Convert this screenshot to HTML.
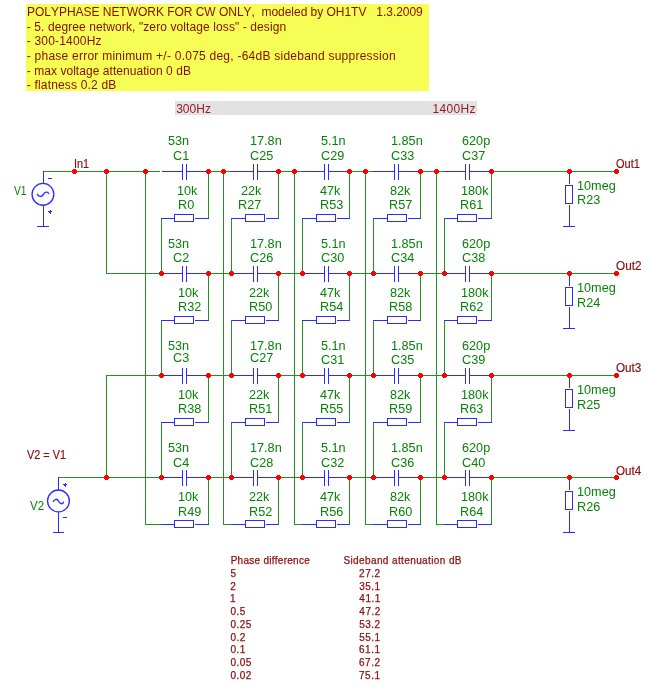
<!DOCTYPE html>
<html><head><meta charset="utf-8"><style>
html,body{margin:0;padding:0;background:#fff;}
body{width:650px;height:687px;position:relative;overflow:hidden;font-family:"Liberation Sans",sans-serif;}
.t{position:absolute;white-space:pre;line-height:1;font-kerning:none;}
.t[style*="font-size:9.5px"]{line-height:1;}
#yb{position:absolute;left:26px;top:4px;width:403px;height:87px;background:#f6fd55;}
#gb{position:absolute;left:175px;top:101px;width:302px;height:14px;background:#e2e2e2;}
svg{position:absolute;left:0;top:0;}
</style></head><body>
<div id="yb"></div>
<div id="gb"></div>
<svg width="650" height="687" viewBox="0 0 650 687" shape-rendering="crispEdges">
<rect x="162" y="171" width="20" height="1" fill="#2b2bff"/><rect x="182" y="164" width="1" height="16" fill="#2b2bff"/><rect x="186" y="164" width="1" height="16" fill="#2b2bff"/><rect x="187" y="171" width="22" height="1" fill="#2b2bff"/><rect x="161" y="218" width="13" height="1" fill="#2b2bff"/><rect x="174.5" y="214.5" width="19" height="7" fill="none" stroke="#2b2bff" stroke-width="1"/><rect x="195" y="218" width="14" height="1" fill="#2b2bff"/><rect x="208" y="172" width="1" height="46" fill="#278f27"/><rect x="161" y="219" width="1" height="54" fill="#278f27"/><rect x="161" y="273" width="21" height="1" fill="#2b2bff"/><rect x="182" y="266" width="1" height="16" fill="#2b2bff"/><rect x="186" y="266" width="1" height="16" fill="#2b2bff"/><rect x="187" y="273" width="22" height="1" fill="#2b2bff"/><rect x="161" y="320" width="13" height="1" fill="#2b2bff"/><rect x="174.5" y="316.5" width="19" height="7" fill="none" stroke="#2b2bff" stroke-width="1"/><rect x="195" y="320" width="14" height="1" fill="#2b2bff"/><rect x="208" y="274" width="1" height="46" fill="#278f27"/><rect x="161" y="321" width="1" height="54" fill="#278f27"/><rect x="161" y="375" width="21" height="1" fill="#2b2bff"/><rect x="182" y="368" width="1" height="16" fill="#2b2bff"/><rect x="186" y="368" width="1" height="16" fill="#2b2bff"/><rect x="187" y="375" width="22" height="1" fill="#2b2bff"/><rect x="161" y="422" width="13" height="1" fill="#2b2bff"/><rect x="174.5" y="418.5" width="19" height="7" fill="none" stroke="#2b2bff" stroke-width="1"/><rect x="195" y="422" width="14" height="1" fill="#2b2bff"/><rect x="208" y="376" width="1" height="46" fill="#278f27"/><rect x="161" y="423" width="1" height="54" fill="#278f27"/><rect x="161" y="477" width="21" height="1" fill="#2b2bff"/><rect x="182" y="470" width="1" height="16" fill="#2b2bff"/><rect x="186" y="470" width="1" height="16" fill="#2b2bff"/><rect x="187" y="477" width="22" height="1" fill="#2b2bff"/><rect x="161" y="524" width="13" height="1" fill="#2b2bff"/><rect x="174.5" y="520.5" width="19" height="7" fill="none" stroke="#2b2bff" stroke-width="1"/><rect x="195" y="524" width="14" height="1" fill="#2b2bff"/><rect x="208" y="478" width="1" height="46" fill="#278f27"/><rect x="145" y="524" width="16" height="1" fill="#278f27"/><rect x="145" y="172" width="1" height="353" fill="#278f27"/><rect x="231" y="171" width="22" height="1" fill="#2b2bff"/><rect x="253" y="164" width="1" height="16" fill="#2b2bff"/><rect x="257" y="164" width="1" height="16" fill="#2b2bff"/><rect x="258" y="171" width="21" height="1" fill="#2b2bff"/><rect x="231" y="218" width="14" height="1" fill="#2b2bff"/><rect x="245.5" y="214.5" width="19" height="7" fill="none" stroke="#2b2bff" stroke-width="1"/><rect x="266" y="218" width="13" height="1" fill="#2b2bff"/><rect x="278" y="172" width="1" height="46" fill="#278f27"/><rect x="231" y="219" width="1" height="54" fill="#278f27"/><rect x="231" y="273" width="22" height="1" fill="#2b2bff"/><rect x="253" y="266" width="1" height="16" fill="#2b2bff"/><rect x="257" y="266" width="1" height="16" fill="#2b2bff"/><rect x="258" y="273" width="21" height="1" fill="#2b2bff"/><rect x="231" y="320" width="14" height="1" fill="#2b2bff"/><rect x="245.5" y="316.5" width="19" height="7" fill="none" stroke="#2b2bff" stroke-width="1"/><rect x="266" y="320" width="13" height="1" fill="#2b2bff"/><rect x="278" y="274" width="1" height="46" fill="#278f27"/><rect x="231" y="321" width="1" height="54" fill="#278f27"/><rect x="231" y="375" width="22" height="1" fill="#2b2bff"/><rect x="253" y="368" width="1" height="16" fill="#2b2bff"/><rect x="257" y="368" width="1" height="16" fill="#2b2bff"/><rect x="258" y="375" width="21" height="1" fill="#2b2bff"/><rect x="231" y="422" width="14" height="1" fill="#2b2bff"/><rect x="245.5" y="418.5" width="19" height="7" fill="none" stroke="#2b2bff" stroke-width="1"/><rect x="266" y="422" width="13" height="1" fill="#2b2bff"/><rect x="278" y="376" width="1" height="46" fill="#278f27"/><rect x="231" y="423" width="1" height="54" fill="#278f27"/><rect x="231" y="477" width="22" height="1" fill="#2b2bff"/><rect x="253" y="470" width="1" height="16" fill="#2b2bff"/><rect x="257" y="470" width="1" height="16" fill="#2b2bff"/><rect x="258" y="477" width="21" height="1" fill="#2b2bff"/><rect x="231" y="524" width="14" height="1" fill="#2b2bff"/><rect x="245.5" y="520.5" width="19" height="7" fill="none" stroke="#2b2bff" stroke-width="1"/><rect x="266" y="524" width="13" height="1" fill="#2b2bff"/><rect x="278" y="478" width="1" height="46" fill="#278f27"/><rect x="223" y="524" width="8" height="1" fill="#278f27"/><rect x="223" y="172" width="1" height="353" fill="#278f27"/><rect x="302" y="171" width="22" height="1" fill="#2b2bff"/><rect x="324" y="164" width="1" height="16" fill="#2b2bff"/><rect x="328" y="164" width="1" height="16" fill="#2b2bff"/><rect x="329" y="171" width="21" height="1" fill="#2b2bff"/><rect x="302" y="218" width="14" height="1" fill="#2b2bff"/><rect x="316.5" y="214.5" width="19" height="7" fill="none" stroke="#2b2bff" stroke-width="1"/><rect x="337" y="218" width="13" height="1" fill="#2b2bff"/><rect x="349" y="172" width="1" height="46" fill="#278f27"/><rect x="302" y="219" width="1" height="54" fill="#278f27"/><rect x="302" y="273" width="22" height="1" fill="#2b2bff"/><rect x="324" y="266" width="1" height="16" fill="#2b2bff"/><rect x="328" y="266" width="1" height="16" fill="#2b2bff"/><rect x="329" y="273" width="21" height="1" fill="#2b2bff"/><rect x="302" y="320" width="14" height="1" fill="#2b2bff"/><rect x="316.5" y="316.5" width="19" height="7" fill="none" stroke="#2b2bff" stroke-width="1"/><rect x="337" y="320" width="13" height="1" fill="#2b2bff"/><rect x="349" y="274" width="1" height="46" fill="#278f27"/><rect x="302" y="321" width="1" height="54" fill="#278f27"/><rect x="302" y="375" width="22" height="1" fill="#2b2bff"/><rect x="324" y="368" width="1" height="16" fill="#2b2bff"/><rect x="328" y="368" width="1" height="16" fill="#2b2bff"/><rect x="329" y="375" width="21" height="1" fill="#2b2bff"/><rect x="302" y="422" width="14" height="1" fill="#2b2bff"/><rect x="316.5" y="418.5" width="19" height="7" fill="none" stroke="#2b2bff" stroke-width="1"/><rect x="337" y="422" width="13" height="1" fill="#2b2bff"/><rect x="349" y="376" width="1" height="46" fill="#278f27"/><rect x="302" y="423" width="1" height="54" fill="#278f27"/><rect x="302" y="477" width="22" height="1" fill="#2b2bff"/><rect x="324" y="470" width="1" height="16" fill="#2b2bff"/><rect x="328" y="470" width="1" height="16" fill="#2b2bff"/><rect x="329" y="477" width="21" height="1" fill="#2b2bff"/><rect x="302" y="524" width="14" height="1" fill="#2b2bff"/><rect x="316.5" y="520.5" width="19" height="7" fill="none" stroke="#2b2bff" stroke-width="1"/><rect x="337" y="524" width="13" height="1" fill="#2b2bff"/><rect x="349" y="478" width="1" height="46" fill="#278f27"/><rect x="294" y="524" width="8" height="1" fill="#278f27"/><rect x="294" y="172" width="1" height="353" fill="#278f27"/><rect x="373" y="171" width="21" height="1" fill="#2b2bff"/><rect x="394" y="164" width="1" height="16" fill="#2b2bff"/><rect x="398" y="164" width="1" height="16" fill="#2b2bff"/><rect x="399" y="171" width="22" height="1" fill="#2b2bff"/><rect x="373" y="218" width="14" height="1" fill="#2b2bff"/><rect x="387.5" y="214.5" width="19" height="7" fill="none" stroke="#2b2bff" stroke-width="1"/><rect x="408" y="218" width="13" height="1" fill="#2b2bff"/><rect x="420" y="172" width="1" height="46" fill="#278f27"/><rect x="373" y="219" width="1" height="54" fill="#278f27"/><rect x="373" y="273" width="21" height="1" fill="#2b2bff"/><rect x="394" y="266" width="1" height="16" fill="#2b2bff"/><rect x="398" y="266" width="1" height="16" fill="#2b2bff"/><rect x="399" y="273" width="22" height="1" fill="#2b2bff"/><rect x="373" y="320" width="14" height="1" fill="#2b2bff"/><rect x="387.5" y="316.5" width="19" height="7" fill="none" stroke="#2b2bff" stroke-width="1"/><rect x="408" y="320" width="13" height="1" fill="#2b2bff"/><rect x="420" y="274" width="1" height="46" fill="#278f27"/><rect x="373" y="321" width="1" height="54" fill="#278f27"/><rect x="373" y="375" width="21" height="1" fill="#2b2bff"/><rect x="394" y="368" width="1" height="16" fill="#2b2bff"/><rect x="398" y="368" width="1" height="16" fill="#2b2bff"/><rect x="399" y="375" width="22" height="1" fill="#2b2bff"/><rect x="373" y="422" width="14" height="1" fill="#2b2bff"/><rect x="387.5" y="418.5" width="19" height="7" fill="none" stroke="#2b2bff" stroke-width="1"/><rect x="408" y="422" width="13" height="1" fill="#2b2bff"/><rect x="420" y="376" width="1" height="46" fill="#278f27"/><rect x="373" y="423" width="1" height="54" fill="#278f27"/><rect x="373" y="477" width="21" height="1" fill="#2b2bff"/><rect x="394" y="470" width="1" height="16" fill="#2b2bff"/><rect x="398" y="470" width="1" height="16" fill="#2b2bff"/><rect x="399" y="477" width="22" height="1" fill="#2b2bff"/><rect x="373" y="524" width="14" height="1" fill="#2b2bff"/><rect x="387.5" y="520.5" width="19" height="7" fill="none" stroke="#2b2bff" stroke-width="1"/><rect x="408" y="524" width="13" height="1" fill="#2b2bff"/><rect x="420" y="478" width="1" height="46" fill="#278f27"/><rect x="365" y="524" width="8" height="1" fill="#278f27"/><rect x="365" y="172" width="1" height="353" fill="#278f27"/><rect x="444" y="171" width="21" height="1" fill="#2b2bff"/><rect x="465" y="164" width="1" height="16" fill="#2b2bff"/><rect x="469" y="164" width="1" height="16" fill="#2b2bff"/><rect x="470" y="171" width="22" height="1" fill="#2b2bff"/><rect x="444" y="218" width="13" height="1" fill="#2b2bff"/><rect x="457.5" y="214.5" width="19" height="7" fill="none" stroke="#2b2bff" stroke-width="1"/><rect x="478" y="218" width="14" height="1" fill="#2b2bff"/><rect x="491" y="172" width="1" height="46" fill="#278f27"/><rect x="444" y="219" width="1" height="54" fill="#278f27"/><rect x="444" y="273" width="21" height="1" fill="#2b2bff"/><rect x="465" y="266" width="1" height="16" fill="#2b2bff"/><rect x="469" y="266" width="1" height="16" fill="#2b2bff"/><rect x="470" y="273" width="22" height="1" fill="#2b2bff"/><rect x="444" y="320" width="13" height="1" fill="#2b2bff"/><rect x="457.5" y="316.5" width="19" height="7" fill="none" stroke="#2b2bff" stroke-width="1"/><rect x="478" y="320" width="14" height="1" fill="#2b2bff"/><rect x="491" y="274" width="1" height="46" fill="#278f27"/><rect x="444" y="321" width="1" height="54" fill="#278f27"/><rect x="444" y="375" width="21" height="1" fill="#2b2bff"/><rect x="465" y="368" width="1" height="16" fill="#2b2bff"/><rect x="469" y="368" width="1" height="16" fill="#2b2bff"/><rect x="470" y="375" width="22" height="1" fill="#2b2bff"/><rect x="444" y="422" width="13" height="1" fill="#2b2bff"/><rect x="457.5" y="418.5" width="19" height="7" fill="none" stroke="#2b2bff" stroke-width="1"/><rect x="478" y="422" width="14" height="1" fill="#2b2bff"/><rect x="491" y="376" width="1" height="46" fill="#278f27"/><rect x="444" y="423" width="1" height="54" fill="#278f27"/><rect x="444" y="477" width="21" height="1" fill="#2b2bff"/><rect x="465" y="470" width="1" height="16" fill="#2b2bff"/><rect x="469" y="470" width="1" height="16" fill="#2b2bff"/><rect x="470" y="477" width="22" height="1" fill="#2b2bff"/><rect x="444" y="524" width="13" height="1" fill="#2b2bff"/><rect x="457.5" y="520.5" width="19" height="7" fill="none" stroke="#2b2bff" stroke-width="1"/><rect x="478" y="524" width="14" height="1" fill="#2b2bff"/><rect x="491" y="478" width="1" height="46" fill="#278f27"/><rect x="436" y="524" width="8" height="1" fill="#278f27"/><rect x="436" y="172" width="1" height="353" fill="#278f27"/><rect x="209" y="171" width="22" height="1" fill="#278f27"/><rect x="279" y="171" width="23" height="1" fill="#278f27"/><rect x="350" y="171" width="23" height="1" fill="#278f27"/><rect x="421" y="171" width="23" height="1" fill="#278f27"/><rect x="492" y="171" width="125" height="1" fill="#278f27"/><rect x="209" y="273" width="22" height="1" fill="#278f27"/><rect x="279" y="273" width="23" height="1" fill="#278f27"/><rect x="350" y="273" width="23" height="1" fill="#278f27"/><rect x="421" y="273" width="23" height="1" fill="#278f27"/><rect x="492" y="273" width="125" height="1" fill="#278f27"/><rect x="209" y="375" width="22" height="1" fill="#278f27"/><rect x="279" y="375" width="23" height="1" fill="#278f27"/><rect x="350" y="375" width="23" height="1" fill="#278f27"/><rect x="421" y="375" width="23" height="1" fill="#278f27"/><rect x="492" y="375" width="125" height="1" fill="#278f27"/><rect x="209" y="477" width="22" height="1" fill="#278f27"/><rect x="279" y="477" width="23" height="1" fill="#278f27"/><rect x="350" y="477" width="23" height="1" fill="#278f27"/><rect x="421" y="477" width="23" height="1" fill="#278f27"/><rect x="492" y="477" width="125" height="1" fill="#278f27"/><rect x="44" y="171" width="116" height="1" fill="#278f27"/><rect x="106" y="273" width="55" height="1" fill="#278f27"/><rect x="106" y="375" width="55" height="1" fill="#278f27"/><rect x="59" y="477" width="102" height="1" fill="#278f27"/><rect x="106" y="172" width="1" height="101" fill="#278f27"/><rect x="106" y="376" width="1" height="101" fill="#278f27"/><rect x="106" y="273" width="1" height="1" fill="#278f27"/><rect x="569" y="172" width="1" height="12" fill="#2b2bff"/><rect x="565.5" y="185.5" width="7" height="18" fill="none" stroke="#2b2bff" stroke-width="1"/><rect x="569" y="205" width="1" height="22" fill="#2b2bff"/><rect x="563" y="226" width="12" height="1" fill="#2b2bff"/><rect x="569" y="274" width="1" height="12" fill="#2b2bff"/><rect x="565.5" y="287.5" width="7" height="18" fill="none" stroke="#2b2bff" stroke-width="1"/><rect x="569" y="307" width="1" height="22" fill="#2b2bff"/><rect x="563" y="328" width="12" height="1" fill="#2b2bff"/><rect x="569" y="376" width="1" height="12" fill="#2b2bff"/><rect x="565.5" y="389.5" width="7" height="18" fill="none" stroke="#2b2bff" stroke-width="1"/><rect x="569" y="409" width="1" height="22" fill="#2b2bff"/><rect x="563" y="430" width="12" height="1" fill="#2b2bff"/><rect x="569" y="478" width="1" height="12" fill="#2b2bff"/><rect x="565.5" y="491.5" width="7" height="18" fill="none" stroke="#2b2bff" stroke-width="1"/><rect x="569" y="511" width="1" height="22" fill="#2b2bff"/><rect x="563" y="532" width="12" height="1" fill="#2b2bff"/><rect x="43" y="171" width="1" height="12" fill="#2b2bff"/><circle cx="42.95" cy="194.35" r="10.9" fill="none" stroke="#2b2bff" stroke-width="1.3" shape-rendering="geometricPrecision"/><path d="M37.3 194.3 C39 197 41.8 197.2 43.2 194.6 S47.5 191.2 48.7 193.5" fill="none" stroke="#2b2bff" stroke-width="1.35" stroke-linecap="round" shape-rendering="geometricPrecision"/><rect x="43" y="205" width="1" height="22" fill="#2b2bff"/><rect x="37" y="226" width="12" height="1" fill="#2b2bff"/><rect x="48" y="178" width="4" height="1" fill="#2b2bff"/><rect x="48" y="211" width="4" height="1" fill="#2b2bff"/><rect x="50" y="210" width="1" height="4" fill="#2b2bff"/><rect x="49" y="212" width="1" height="1" fill="#2b2bff"/><rect x="58" y="477" width="1" height="13" fill="#2b2bff"/><circle cx="58.45" cy="500.9" r="10.9" fill="none" stroke="#2b2bff" stroke-width="1.3" shape-rendering="geometricPrecision"/><path d="M53.2 501.5 C54.7 498.6 57.3 498.6 58.6 501.3 S62.5 504.6 63.5 502.2" fill="none" stroke="#2b2bff" stroke-width="1.35" stroke-linecap="round" shape-rendering="geometricPrecision"/><rect x="58" y="512" width="1" height="21" fill="#2b2bff"/><rect x="53" y="532" width="11" height="1" fill="#2b2bff"/><rect x="63" y="484" width="4" height="1" fill="#2b2bff"/><rect x="65" y="483" width="1" height="4" fill="#2b2bff"/><rect x="64" y="485" width="1" height="1" fill="#2b2bff"/><rect x="63" y="517" width="4" height="1" fill="#2b2bff"/><path d="M73 169h3v1h1v3h-1v1h-3v-1h-1v-3h1z" fill="#ff0000"/><path d="M105 169h3v1h1v3h-1v1h-3v-1h-1v-3h1z" fill="#ff0000"/><path d="M105 475h3v1h1v3h-1v1h-3v-1h-1v-3h1z" fill="#ff0000"/><path d="M144 169h3v1h1v3h-1v1h-3v-1h-1v-3h1z" fill="#ff0000"/><path d="M207 169h3v1h1v3h-1v1h-3v-1h-1v-3h1z" fill="#ff0000"/><path d="M160 271h3v1h1v3h-1v1h-3v-1h-1v-3h1z" fill="#ff0000"/><path d="M207 271h3v1h1v3h-1v1h-3v-1h-1v-3h1z" fill="#ff0000"/><path d="M160 373h3v1h1v3h-1v1h-3v-1h-1v-3h1z" fill="#ff0000"/><path d="M207 373h3v1h1v3h-1v1h-3v-1h-1v-3h1z" fill="#ff0000"/><path d="M160 475h3v1h1v3h-1v1h-3v-1h-1v-3h1z" fill="#ff0000"/><path d="M207 475h3v1h1v3h-1v1h-3v-1h-1v-3h1z" fill="#ff0000"/><path d="M222 169h3v1h1v3h-1v1h-3v-1h-1v-3h1z" fill="#ff0000"/><path d="M277 169h3v1h1v3h-1v1h-3v-1h-1v-3h1z" fill="#ff0000"/><path d="M230 271h3v1h1v3h-1v1h-3v-1h-1v-3h1z" fill="#ff0000"/><path d="M277 271h3v1h1v3h-1v1h-3v-1h-1v-3h1z" fill="#ff0000"/><path d="M230 373h3v1h1v3h-1v1h-3v-1h-1v-3h1z" fill="#ff0000"/><path d="M277 373h3v1h1v3h-1v1h-3v-1h-1v-3h1z" fill="#ff0000"/><path d="M230 475h3v1h1v3h-1v1h-3v-1h-1v-3h1z" fill="#ff0000"/><path d="M277 475h3v1h1v3h-1v1h-3v-1h-1v-3h1z" fill="#ff0000"/><path d="M293 169h3v1h1v3h-1v1h-3v-1h-1v-3h1z" fill="#ff0000"/><path d="M348 169h3v1h1v3h-1v1h-3v-1h-1v-3h1z" fill="#ff0000"/><path d="M301 271h3v1h1v3h-1v1h-3v-1h-1v-3h1z" fill="#ff0000"/><path d="M348 271h3v1h1v3h-1v1h-3v-1h-1v-3h1z" fill="#ff0000"/><path d="M301 373h3v1h1v3h-1v1h-3v-1h-1v-3h1z" fill="#ff0000"/><path d="M348 373h3v1h1v3h-1v1h-3v-1h-1v-3h1z" fill="#ff0000"/><path d="M301 475h3v1h1v3h-1v1h-3v-1h-1v-3h1z" fill="#ff0000"/><path d="M348 475h3v1h1v3h-1v1h-3v-1h-1v-3h1z" fill="#ff0000"/><path d="M364 169h3v1h1v3h-1v1h-3v-1h-1v-3h1z" fill="#ff0000"/><path d="M419 169h3v1h1v3h-1v1h-3v-1h-1v-3h1z" fill="#ff0000"/><path d="M372 271h3v1h1v3h-1v1h-3v-1h-1v-3h1z" fill="#ff0000"/><path d="M419 271h3v1h1v3h-1v1h-3v-1h-1v-3h1z" fill="#ff0000"/><path d="M372 373h3v1h1v3h-1v1h-3v-1h-1v-3h1z" fill="#ff0000"/><path d="M419 373h3v1h1v3h-1v1h-3v-1h-1v-3h1z" fill="#ff0000"/><path d="M372 475h3v1h1v3h-1v1h-3v-1h-1v-3h1z" fill="#ff0000"/><path d="M419 475h3v1h1v3h-1v1h-3v-1h-1v-3h1z" fill="#ff0000"/><path d="M435 169h3v1h1v3h-1v1h-3v-1h-1v-3h1z" fill="#ff0000"/><path d="M490 169h3v1h1v3h-1v1h-3v-1h-1v-3h1z" fill="#ff0000"/><path d="M443 271h3v1h1v3h-1v1h-3v-1h-1v-3h1z" fill="#ff0000"/><path d="M490 271h3v1h1v3h-1v1h-3v-1h-1v-3h1z" fill="#ff0000"/><path d="M443 373h3v1h1v3h-1v1h-3v-1h-1v-3h1z" fill="#ff0000"/><path d="M490 373h3v1h1v3h-1v1h-3v-1h-1v-3h1z" fill="#ff0000"/><path d="M443 475h3v1h1v3h-1v1h-3v-1h-1v-3h1z" fill="#ff0000"/><path d="M490 475h3v1h1v3h-1v1h-3v-1h-1v-3h1z" fill="#ff0000"/><path d="M568 169h3v1h1v3h-1v1h-3v-1h-1v-3h1z" fill="#ff0000"/><path d="M615 169h3v1h1v3h-1v1h-3v-1h-1v-3h1z" fill="#ff0000"/><path d="M568 271h3v1h1v3h-1v1h-3v-1h-1v-3h1z" fill="#ff0000"/><path d="M615 271h3v1h1v3h-1v1h-3v-1h-1v-3h1z" fill="#ff0000"/><path d="M568 373h3v1h1v3h-1v1h-3v-1h-1v-3h1z" fill="#ff0000"/><path d="M615 373h3v1h1v3h-1v1h-3v-1h-1v-3h1z" fill="#ff0000"/><path d="M568 475h3v1h1v3h-1v1h-3v-1h-1v-3h1z" fill="#ff0000"/><path d="M615 475h3v1h1v3h-1v1h-3v-1h-1v-3h1z" fill="#ff0000"/>
</svg>
<div id="tx" style="position:absolute;left:0;top:0;width:650px;height:687px;will-change:transform"><div class="t" style="left:27.02px;letter-spacing:-0.029px;top:5.84px;font-size:12px;color:#850e00;">POLYPHASE NETWORK FOR CW ONLY,  modeled by OH1TV   1.3.2009</div><div class="t" style="left:26.77px;letter-spacing:0.099px;top:21.04px;font-size:12px;color:#850e00;">- 5. degree network, "zero voltage loss" - design</div><div class="t" style="left:26.77px;letter-spacing:0.184px;top:34.84px;font-size:12px;color:#850e00;">- 300-1400Hz</div><div class="t" style="left:26.77px;letter-spacing:0.241px;top:50.04px;font-size:12px;color:#850e00;">- phase error minimum +/- 0.075 deg, -64dB sideband suppression</div><div class="t" style="left:26.77px;letter-spacing:0.048px;top:64.74px;font-size:12px;color:#850e00;">- max voltage attenuation 0 dB</div><div class="t" style="left:26.77px;letter-spacing:0.172px;top:78.94px;font-size:12px;color:#850e00;">- flatness 0.2 dB</div><div class="t" style="left:176.14px;letter-spacing:0.067px;top:102.84px;font-size:12px;color:#9a1a22;">300Hz</div><div class="t" style="left:432.59px;letter-spacing:0.290px;top:102.84px;font-size:12px;color:#9a1a22;">1400Hz</div><div class="t" style="left:167.79px;top:133.80px;font-size:13px;color:#078307;transform:scaleX(0.975);transform-origin:0 0">53n</div><div class="t" style="left:172.86px;top:148.80px;font-size:13px;color:#078307;transform:scaleX(0.975);transform-origin:0 0">C1</div><div class="t" style="left:177.33px;top:184.00px;font-size:13px;color:#078307;transform:scaleX(0.975);transform-origin:0 0">10k</div><div class="t" style="left:177.86px;top:197.80px;font-size:13px;color:#078307;transform:scaleX(0.975);transform-origin:0 0">R0</div><div class="t" style="left:167.79px;top:237.10px;font-size:13px;color:#078307;transform:scaleX(0.975);transform-origin:0 0">53n</div><div class="t" style="left:172.86px;top:250.80px;font-size:13px;color:#078307;transform:scaleX(0.975);transform-origin:0 0">C2</div><div class="t" style="left:177.83px;top:286.00px;font-size:13px;color:#078307;transform:scaleX(0.975);transform-origin:0 0">10k</div><div class="t" style="left:177.76px;top:299.80px;font-size:13px;color:#078307;transform:scaleX(0.975);transform-origin:0 0">R32</div><div class="t" style="left:167.79px;top:339.10px;font-size:13px;color:#078307;transform:scaleX(0.975);transform-origin:0 0">53n</div><div class="t" style="left:172.86px;top:351.00px;font-size:13px;color:#078307;transform:scaleX(0.975);transform-origin:0 0">C3</div><div class="t" style="left:177.83px;top:388.00px;font-size:13px;color:#078307;transform:scaleX(0.975);transform-origin:0 0">10k</div><div class="t" style="left:177.76px;top:401.80px;font-size:13px;color:#078307;transform:scaleX(0.975);transform-origin:0 0">R38</div><div class="t" style="left:167.79px;top:441.10px;font-size:13px;color:#078307;transform:scaleX(0.975);transform-origin:0 0">53n</div><div class="t" style="left:172.86px;top:455.60px;font-size:13px;color:#078307;transform:scaleX(0.975);transform-origin:0 0">C4</div><div class="t" style="left:177.83px;top:490.00px;font-size:13px;color:#078307;transform:scaleX(0.975);transform-origin:0 0">10k</div><div class="t" style="left:177.76px;top:504.50px;font-size:13px;color:#078307;transform:scaleX(0.975);transform-origin:0 0">R49</div><div class="t" style="left:249.53px;top:133.80px;font-size:13px;color:#078307;transform:scaleX(0.975);transform-origin:0 0">17.8n</div><div class="t" style="left:249.86px;top:148.80px;font-size:13px;color:#078307;transform:scaleX(0.975);transform-origin:0 0">C25</div><div class="t" style="left:241.36px;top:184.00px;font-size:13px;color:#078307;transform:scaleX(0.975);transform-origin:0 0">22k</div><div class="t" style="left:237.66px;top:197.80px;font-size:13px;color:#078307;transform:scaleX(0.975);transform-origin:0 0">R27</div><div class="t" style="left:249.53px;top:237.10px;font-size:13px;color:#078307;transform:scaleX(0.975);transform-origin:0 0">17.8n</div><div class="t" style="left:249.86px;top:250.80px;font-size:13px;color:#078307;transform:scaleX(0.975);transform-origin:0 0">C26</div><div class="t" style="left:249.36px;top:286.00px;font-size:13px;color:#078307;transform:scaleX(0.975);transform-origin:0 0">22k</div><div class="t" style="left:248.96px;top:299.80px;font-size:13px;color:#078307;transform:scaleX(0.975);transform-origin:0 0">R50</div><div class="t" style="left:249.53px;top:339.10px;font-size:13px;color:#078307;transform:scaleX(0.975);transform-origin:0 0">17.8n</div><div class="t" style="left:249.86px;top:351.00px;font-size:13px;color:#078307;transform:scaleX(0.975);transform-origin:0 0">C27</div><div class="t" style="left:249.36px;top:388.00px;font-size:13px;color:#078307;transform:scaleX(0.975);transform-origin:0 0">22k</div><div class="t" style="left:248.96px;top:401.80px;font-size:13px;color:#078307;transform:scaleX(0.975);transform-origin:0 0">R51</div><div class="t" style="left:249.53px;top:441.10px;font-size:13px;color:#078307;transform:scaleX(0.975);transform-origin:0 0">17.8n</div><div class="t" style="left:249.86px;top:455.60px;font-size:13px;color:#078307;transform:scaleX(0.975);transform-origin:0 0">C28</div><div class="t" style="left:249.36px;top:490.00px;font-size:13px;color:#078307;transform:scaleX(0.975);transform-origin:0 0">22k</div><div class="t" style="left:248.96px;top:504.50px;font-size:13px;color:#078307;transform:scaleX(0.975);transform-origin:0 0">R52</div><div class="t" style="left:320.99px;top:133.80px;font-size:13px;color:#078307;transform:scaleX(0.975);transform-origin:0 0">5.1n</div><div class="t" style="left:320.86px;top:148.80px;font-size:13px;color:#078307;transform:scaleX(0.975);transform-origin:0 0">C29</div><div class="t" style="left:320.01px;top:184.00px;font-size:13px;color:#078307;transform:scaleX(0.975);transform-origin:0 0">47k</div><div class="t" style="left:319.66px;top:197.80px;font-size:13px;color:#078307;transform:scaleX(0.975);transform-origin:0 0">R53</div><div class="t" style="left:320.99px;top:237.10px;font-size:13px;color:#078307;transform:scaleX(0.975);transform-origin:0 0">5.1n</div><div class="t" style="left:320.86px;top:250.80px;font-size:13px;color:#078307;transform:scaleX(0.975);transform-origin:0 0">C30</div><div class="t" style="left:320.01px;top:286.00px;font-size:13px;color:#078307;transform:scaleX(0.975);transform-origin:0 0">47k</div><div class="t" style="left:319.66px;top:299.80px;font-size:13px;color:#078307;transform:scaleX(0.975);transform-origin:0 0">R54</div><div class="t" style="left:320.99px;top:339.10px;font-size:13px;color:#078307;transform:scaleX(0.975);transform-origin:0 0">5.1n</div><div class="t" style="left:320.86px;top:352.80px;font-size:13px;color:#078307;transform:scaleX(0.975);transform-origin:0 0">C31</div><div class="t" style="left:320.01px;top:388.00px;font-size:13px;color:#078307;transform:scaleX(0.975);transform-origin:0 0">47k</div><div class="t" style="left:319.66px;top:401.80px;font-size:13px;color:#078307;transform:scaleX(0.975);transform-origin:0 0">R55</div><div class="t" style="left:320.99px;top:441.10px;font-size:13px;color:#078307;transform:scaleX(0.975);transform-origin:0 0">5.1n</div><div class="t" style="left:320.86px;top:455.60px;font-size:13px;color:#078307;transform:scaleX(0.975);transform-origin:0 0">C32</div><div class="t" style="left:320.01px;top:490.00px;font-size:13px;color:#078307;transform:scaleX(0.975);transform-origin:0 0">47k</div><div class="t" style="left:319.66px;top:504.50px;font-size:13px;color:#078307;transform:scaleX(0.975);transform-origin:0 0">R56</div><div class="t" style="left:391.03px;top:133.80px;font-size:13px;color:#078307;transform:scaleX(0.975);transform-origin:0 0">1.85n</div><div class="t" style="left:391.36px;top:148.80px;font-size:13px;color:#078307;transform:scaleX(0.975);transform-origin:0 0">C33</div><div class="t" style="left:389.95px;top:184.00px;font-size:13px;color:#078307;transform:scaleX(0.975);transform-origin:0 0">82k</div><div class="t" style="left:389.46px;top:197.80px;font-size:13px;color:#078307;transform:scaleX(0.975);transform-origin:0 0">R57</div><div class="t" style="left:391.03px;top:237.10px;font-size:13px;color:#078307;transform:scaleX(0.975);transform-origin:0 0">1.85n</div><div class="t" style="left:391.36px;top:250.80px;font-size:13px;color:#078307;transform:scaleX(0.975);transform-origin:0 0">C34</div><div class="t" style="left:389.95px;top:286.00px;font-size:13px;color:#078307;transform:scaleX(0.975);transform-origin:0 0">82k</div><div class="t" style="left:389.46px;top:299.80px;font-size:13px;color:#078307;transform:scaleX(0.975);transform-origin:0 0">R58</div><div class="t" style="left:391.03px;top:339.10px;font-size:13px;color:#078307;transform:scaleX(0.975);transform-origin:0 0">1.85n</div><div class="t" style="left:391.36px;top:352.80px;font-size:13px;color:#078307;transform:scaleX(0.975);transform-origin:0 0">C35</div><div class="t" style="left:389.95px;top:388.00px;font-size:13px;color:#078307;transform:scaleX(0.975);transform-origin:0 0">82k</div><div class="t" style="left:389.46px;top:401.80px;font-size:13px;color:#078307;transform:scaleX(0.975);transform-origin:0 0">R59</div><div class="t" style="left:391.03px;top:441.10px;font-size:13px;color:#078307;transform:scaleX(0.975);transform-origin:0 0">1.85n</div><div class="t" style="left:391.36px;top:455.60px;font-size:13px;color:#078307;transform:scaleX(0.975);transform-origin:0 0">C36</div><div class="t" style="left:389.95px;top:490.00px;font-size:13px;color:#078307;transform:scaleX(0.975);transform-origin:0 0">82k</div><div class="t" style="left:389.46px;top:504.50px;font-size:13px;color:#078307;transform:scaleX(0.975);transform-origin:0 0">R60</div><div class="t" style="left:461.56px;top:133.80px;font-size:13px;color:#078307;transform:scaleX(0.975);transform-origin:0 0">620p</div><div class="t" style="left:462.06px;top:148.80px;font-size:13px;color:#078307;transform:scaleX(0.975);transform-origin:0 0">C37</div><div class="t" style="left:460.53px;top:184.00px;font-size:13px;color:#078307;transform:scaleX(0.975);transform-origin:0 0">180k</div><div class="t" style="left:460.46px;top:197.80px;font-size:13px;color:#078307;transform:scaleX(0.975);transform-origin:0 0">R61</div><div class="t" style="left:461.56px;top:237.10px;font-size:13px;color:#078307;transform:scaleX(0.975);transform-origin:0 0">620p</div><div class="t" style="left:462.06px;top:250.80px;font-size:13px;color:#078307;transform:scaleX(0.975);transform-origin:0 0">C38</div><div class="t" style="left:460.53px;top:286.00px;font-size:13px;color:#078307;transform:scaleX(0.975);transform-origin:0 0">180k</div><div class="t" style="left:460.46px;top:299.80px;font-size:13px;color:#078307;transform:scaleX(0.975);transform-origin:0 0">R62</div><div class="t" style="left:461.56px;top:339.10px;font-size:13px;color:#078307;transform:scaleX(0.975);transform-origin:0 0">620p</div><div class="t" style="left:462.06px;top:352.80px;font-size:13px;color:#078307;transform:scaleX(0.975);transform-origin:0 0">C39</div><div class="t" style="left:460.53px;top:388.00px;font-size:13px;color:#078307;transform:scaleX(0.975);transform-origin:0 0">180k</div><div class="t" style="left:460.46px;top:401.80px;font-size:13px;color:#078307;transform:scaleX(0.975);transform-origin:0 0">R63</div><div class="t" style="left:461.56px;top:441.10px;font-size:13px;color:#078307;transform:scaleX(0.975);transform-origin:0 0">620p</div><div class="t" style="left:462.06px;top:455.60px;font-size:13px;color:#078307;transform:scaleX(0.975);transform-origin:0 0">C40</div><div class="t" style="left:460.53px;top:490.00px;font-size:13px;color:#078307;transform:scaleX(0.975);transform-origin:0 0">180k</div><div class="t" style="left:460.46px;top:504.50px;font-size:13px;color:#078307;transform:scaleX(0.975);transform-origin:0 0">R64</div><div class="t" style="left:576.73px;top:178.90px;font-size:13px;color:#078307;transform:scaleX(0.975);transform-origin:0 0">10meg</div><div class="t" style="left:576.66px;top:192.70px;font-size:13px;color:#078307;transform:scaleX(0.975);transform-origin:0 0">R23</div><div class="t" style="left:616.18px;transform:scaleX(0.8465);transform-origin:0 0;top:157.00px;font-size:13px;color:#8a0f0f;-webkit-text-stroke:0.2px #8a0f0f;">Out1</div><div class="t" style="left:576.73px;top:280.90px;font-size:13px;color:#078307;transform:scaleX(0.975);transform-origin:0 0">10meg</div><div class="t" style="left:576.66px;top:295.70px;font-size:13px;color:#078307;transform:scaleX(0.975);transform-origin:0 0">R24</div><div class="t" style="left:616.14px;transform:scaleX(0.9029);transform-origin:0 0;top:259.00px;font-size:13px;color:#8a0f0f;-webkit-text-stroke:0.2px #8a0f0f;">Out2</div><div class="t" style="left:576.73px;top:382.90px;font-size:13px;color:#078307;transform:scaleX(0.975);transform-origin:0 0">10meg</div><div class="t" style="left:576.66px;top:397.70px;font-size:13px;color:#078307;transform:scaleX(0.975);transform-origin:0 0">R25</div><div class="t" style="left:616.15px;transform:scaleX(0.9001);transform-origin:0 0;top:361.00px;font-size:13px;color:#8a0f0f;-webkit-text-stroke:0.2px #8a0f0f;">Out3</div><div class="t" style="left:576.73px;top:484.90px;font-size:13px;color:#078307;transform:scaleX(0.975);transform-origin:0 0">10meg</div><div class="t" style="left:576.66px;top:499.70px;font-size:13px;color:#078307;transform:scaleX(0.975);transform-origin:0 0">R26</div><div class="t" style="left:616.15px;transform:scaleX(0.8938);transform-origin:0 0;top:463.70px;font-size:13px;color:#8a0f0f;-webkit-text-stroke:0.2px #8a0f0f;">Out4</div><div class="t" style="left:73.70px;transform:scaleX(0.8376);transform-origin:0 0;top:157.00px;font-size:13px;color:#8a0f0f;-webkit-text-stroke:0.2px #8a0f0f;">In1</div><div class="t" style="left:13.75px;transform:scaleX(0.7890);transform-origin:0 0;top:184.00px;font-size:13px;color:#078307;">V1</div><div class="t" style="left:29.85px;transform:scaleX(0.8822);transform-origin:0 0;top:498.80px;font-size:13px;color:#078307;">V2</div><div class="t" style="left:26.75px;transform:scaleX(0.8361);transform-origin:0 0;top:448.10px;font-size:13px;color:#8a0f0f;-webkit-text-stroke:0.2px #8a0f0f;">V2 = V1</div><div class="t" style="left:230.68px;top:555.83px;font-size:10.0px;letter-spacing:0.268px;transform:scaleX(1.0);transform-origin:0 0;color:#8a0f0f;-webkit-text-stroke:0.25px #8a0f0f;">Phase difference</div><div class="t" style="left:343.45px;top:555.83px;font-size:10.0px;letter-spacing:0.388px;transform:scaleX(1.0);transform-origin:0 0;color:#8a0f0f;-webkit-text-stroke:0.25px #8a0f0f;">Sideband attenuation dB</div><div class="t" style="left:230.40px;top:568.83px;font-size:10.0px;letter-spacing:0.470px;transform:scaleX(1.0);transform-origin:0 0;color:#8a0f0f;-webkit-text-stroke:0.25px #8a0f0f;">5</div><div class="t" style="left:359.10px;top:568.83px;font-size:10.0px;letter-spacing:0.470px;transform:scaleX(1.0);transform-origin:0 0;color:#8a0f0f;-webkit-text-stroke:0.25px #8a0f0f;">27.2</div><div class="t" style="left:230.30px;top:581.58px;font-size:10.0px;letter-spacing:0.470px;transform:scaleX(1.0);transform-origin:0 0;color:#8a0f0f;-webkit-text-stroke:0.25px #8a0f0f;">2</div><div class="t" style="left:359.22px;top:581.58px;font-size:10.0px;letter-spacing:0.470px;transform:scaleX(1.0);transform-origin:0 0;color:#8a0f0f;-webkit-text-stroke:0.25px #8a0f0f;">35.1</div><div class="t" style="left:230.04px;top:594.33px;font-size:10.0px;letter-spacing:0.470px;transform:scaleX(1.0);transform-origin:0 0;color:#8a0f0f;-webkit-text-stroke:0.25px #8a0f0f;">1</div><div class="t" style="left:359.37px;top:594.33px;font-size:10.0px;letter-spacing:0.470px;transform:scaleX(1.0);transform-origin:0 0;color:#8a0f0f;-webkit-text-stroke:0.25px #8a0f0f;">41.1</div><div class="t" style="left:230.41px;top:607.08px;font-size:10.0px;letter-spacing:0.470px;transform:scaleX(1.0);transform-origin:0 0;color:#8a0f0f;-webkit-text-stroke:0.25px #8a0f0f;">0.5</div><div class="t" style="left:359.37px;top:607.08px;font-size:10.0px;letter-spacing:0.470px;transform:scaleX(1.0);transform-origin:0 0;color:#8a0f0f;-webkit-text-stroke:0.25px #8a0f0f;">47.2</div><div class="t" style="left:230.41px;top:619.83px;font-size:10.0px;letter-spacing:0.470px;transform:scaleX(1.0);transform-origin:0 0;color:#8a0f0f;-webkit-text-stroke:0.25px #8a0f0f;">0.25</div><div class="t" style="left:359.20px;top:619.83px;font-size:10.0px;letter-spacing:0.470px;transform:scaleX(1.0);transform-origin:0 0;color:#8a0f0f;-webkit-text-stroke:0.25px #8a0f0f;">53.2</div><div class="t" style="left:230.41px;top:632.58px;font-size:10.0px;letter-spacing:0.470px;transform:scaleX(1.0);transform-origin:0 0;color:#8a0f0f;-webkit-text-stroke:0.25px #8a0f0f;">0.2</div><div class="t" style="left:359.20px;top:632.58px;font-size:10.0px;letter-spacing:0.470px;transform:scaleX(1.0);transform-origin:0 0;color:#8a0f0f;-webkit-text-stroke:0.25px #8a0f0f;">55.1</div><div class="t" style="left:230.41px;top:645.33px;font-size:10.0px;letter-spacing:0.470px;transform:scaleX(1.0);transform-origin:0 0;color:#8a0f0f;-webkit-text-stroke:0.25px #8a0f0f;">0.1</div><div class="t" style="left:359.09px;top:645.33px;font-size:10.0px;letter-spacing:0.470px;transform:scaleX(1.0);transform-origin:0 0;color:#8a0f0f;-webkit-text-stroke:0.25px #8a0f0f;">61.1</div><div class="t" style="left:230.41px;top:658.08px;font-size:10.0px;letter-spacing:0.470px;transform:scaleX(1.0);transform-origin:0 0;color:#8a0f0f;-webkit-text-stroke:0.25px #8a0f0f;">0.05</div><div class="t" style="left:359.09px;top:658.08px;font-size:10.0px;letter-spacing:0.470px;transform:scaleX(1.0);transform-origin:0 0;color:#8a0f0f;-webkit-text-stroke:0.25px #8a0f0f;">67.2</div><div class="t" style="left:230.41px;top:670.83px;font-size:10.0px;letter-spacing:0.470px;transform:scaleX(1.0);transform-origin:0 0;color:#8a0f0f;-webkit-text-stroke:0.25px #8a0f0f;">0.02</div><div class="t" style="left:359.09px;top:670.83px;font-size:10.0px;letter-spacing:0.470px;transform:scaleX(1.0);transform-origin:0 0;color:#8a0f0f;-webkit-text-stroke:0.25px #8a0f0f;">75.1</div></div>
</body></html>
